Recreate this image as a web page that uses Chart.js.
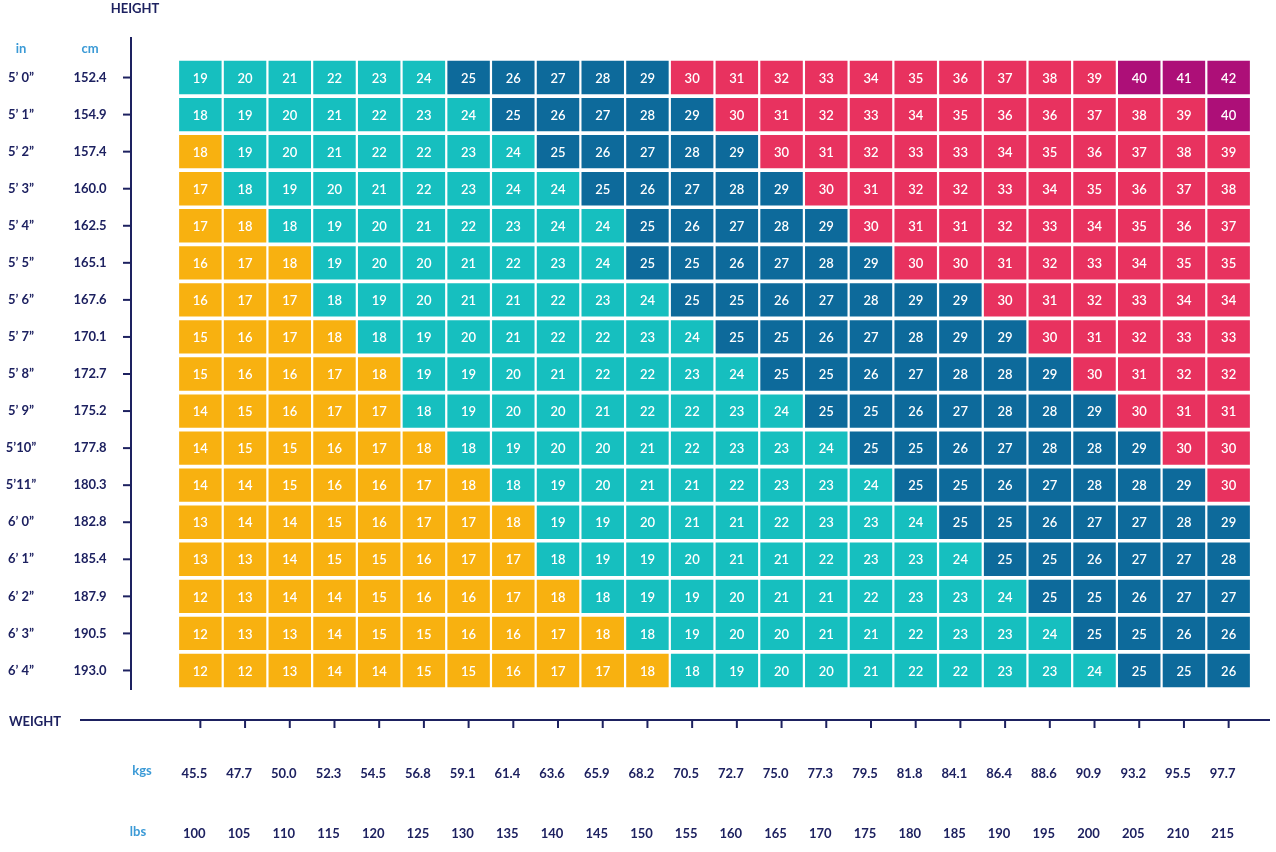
<!DOCTYPE html>
<html><head><meta charset="utf-8">
<script src="https://cdn.jsdelivr.net/npm/chart.js@4"></script>
<style>html,body{margin:0;background:#fff}</style>
</head><body>
<canvas id="bmiChart" width="1276" height="852"></canvas>
<script>
const heightsIn = ['5\u2019 0\u201D','5\u2019 1\u201D','5\u2019 2\u201D','5\u2019 3\u201D','5\u2019 4\u201D','5\u2019 5\u201D','5\u2019 6\u201D','5\u2019 7\u201D','5\u2019 8\u201D','5\u2019 9\u201D','5\u201910\u201D','5\u201911\u201D','6\u2019 0\u201D','6\u2019 1\u201D','6\u2019 2\u201D','6\u2019 3\u201D','6\u2019 4\u201D'];
const heightsCm = [152.4,154.9,157.4,160.0,162.5,165.1,167.6,170.1,172.7,175.2,177.8,180.3,182.8,185.4,187.9,190.5,193.0];
const weightsKg = [45.5,47.7,50.0,52.3,54.5,56.8,59.1,61.4,63.6,65.9,68.2,70.5,72.7,75.0,77.3,79.5,81.8,84.1,86.4,88.6,90.9,93.2,95.5,97.7];
const weightsLb = [100,105,110,115,120,125,130,135,140,145,150,155,160,165,170,175,180,185,190,195,200,205,210,215];
const bmiRows = [
  [19,20,21,22,23,24,25,26,27,28,29,30,31,32,33,34,35,36,37,38,39,40,41,42],
  [18,19,20,21,22,23,24,25,26,27,28,29,30,31,32,33,34,35,36,36,37,38,39,40],
  [18,19,20,21,22,22,23,24,25,26,27,28,29,30,31,32,33,33,34,35,36,37,38,39],
  [17,18,19,20,21,22,23,24,24,25,26,27,28,29,30,31,32,32,33,34,35,36,37,38],
  [17,18,18,19,20,21,22,23,24,24,25,26,27,28,29,30,31,31,32,33,34,35,36,37],
  [16,17,18,19,20,20,21,22,23,24,25,25,26,27,28,29,30,30,31,32,33,34,35,35],
  [16,17,17,18,19,20,21,21,22,23,24,25,25,26,27,28,29,29,30,31,32,33,34,34],
  [15,16,17,18,18,19,20,21,22,22,23,24,25,25,26,27,28,29,29,30,31,32,33,33],
  [15,16,16,17,18,19,19,20,21,22,22,23,24,25,25,26,27,28,28,29,30,31,32,32],
  [14,15,16,17,17,18,19,20,20,21,22,22,23,24,25,25,26,27,28,28,29,30,31,31],
  [14,15,15,16,17,18,18,19,20,20,21,22,23,23,24,25,25,26,27,28,28,29,30,30],
  [14,14,15,16,16,17,18,18,19,20,21,21,22,23,23,24,25,25,26,27,28,28,29,30],
  [13,14,14,15,16,17,17,18,19,19,20,21,21,22,23,23,24,25,25,26,27,27,28,29],
  [13,13,14,15,15,16,17,17,18,19,19,20,21,21,22,23,23,24,25,25,26,27,27,28],
  [12,13,14,14,15,16,16,17,18,18,19,19,20,21,21,22,23,23,24,25,25,26,27,27],
  [12,13,13,14,15,15,16,16,17,18,18,19,20,20,21,21,22,23,23,24,25,25,26,26],
  [12,12,13,14,14,15,15,16,17,17,18,18,19,20,20,21,22,22,23,23,24,25,25,26]
];

const NAVY = '#1d2160', LIGHT = '#3b9ad6';

// colour from the real BMI (kg / m^2) so 18.5 splits the "18" cells
function cellColor(r, c) {
  const m = heightsCm[r] / 100;
  const bmi = weightsKg[c] / (m * m);
  if (bmi < 18.5) return '#f8b110';
  if (bmi < 25) return '#16bfbf';
  if (bmi < 30) return '#0d6a9b';
  if (bmi < 40) return '#e8325f';
  return '#ad0f78';
}

const datasets = bmiRows.map((row, r) => ({
  label: heightsIn[r],
  data: row.map(() => [r - 0.45, r + 0.45]),
  bmi: row,
  backgroundColor: row.map((v, c) => cellColor(r, c)),
  grouped: false,
  barPercentage: 0.95,
  categoryPercentage: 1.0,
  borderWidth: 0
}));

const textPlugin = {
  id: 'bmiText',
  afterDatasetsDraw(chart) {
    const ctx = chart.ctx, x = chart.scales.x, y = chart.scales.y;
    ctx.save();
    ctx.textAlign = 'center'; ctx.textBaseline = 'middle';
    ctx.font = '600 13px Lato, "Open Sans", sans-serif';
    ctx.fillStyle = '#fff';
    bmiRows.forEach((row, r) => row.forEach((v, c) => {
      ctx.fillText(String(v), x.getPixelForValue(c), y.getPixelForValue(r) + 1);
    }));

    // left axis
    ctx.strokeStyle = NAVY; ctx.lineWidth = 2;
    ctx.beginPath(); ctx.moveTo(131, 37); ctx.lineTo(131, 690); ctx.stroke();
    ctx.font = 'bold 13px Lato, "Open Sans", sans-serif';
    heightsIn.forEach((h, r) => {
      const py = y.getPixelForValue(r);
      ctx.beginPath(); ctx.moveTo(123, py); ctx.lineTo(131, py); ctx.stroke();
      ctx.fillStyle = NAVY;
      ctx.textAlign = 'center'; ctx.fillText(h, 21, py);
      ctx.fillText(heightsCm[r].toFixed(1), 90, py);
    });
    // bottom axis
    ctx.beginPath(); ctx.moveTo(80, 720); ctx.lineTo(1270, 720); ctx.stroke();
    weightsKg.forEach((k, c) => {
      const px = x.getPixelForValue(c);
      ctx.beginPath(); ctx.moveTo(px, 720); ctx.lineTo(px, 728); ctx.stroke();
      ctx.fillStyle = NAVY;
      ctx.fillText(k.toFixed(1), px - 6, 774);
      ctx.fillText(String(weightsLb[c]), px - 6, 834);
    });
    ctx.fillText('HEIGHT', 135, 9);
    ctx.fillText('WEIGHT', 35, 722);
    ctx.fillStyle = LIGHT;
    ctx.fillText('in', 21, 49);
    ctx.fillText('cm', 90, 49);
    ctx.fillText('kgs', 142, 771);
    ctx.fillText('lbs', 138, 832);
    ctx.restore();
  }
};

new Chart(document.getElementById('bmiChart').getContext('2d'), {
  type: 'bar',
  data: { labels: weightsLb.map(String), datasets },
  options: {
    responsive: false,
    animation: false,
    layout: { padding: { left: 178, right: 25, top: 59, bottom: 163 } },
    plugins: { legend: { display: false }, tooltip: { enabled: false } },
    scales: {
      x: { display: false, offset: true },
      y: { display: false, min: -0.5, max: 16.5, reverse: true }
    }
  },
  plugins: [textPlugin]
});
</script>
</body></html>
